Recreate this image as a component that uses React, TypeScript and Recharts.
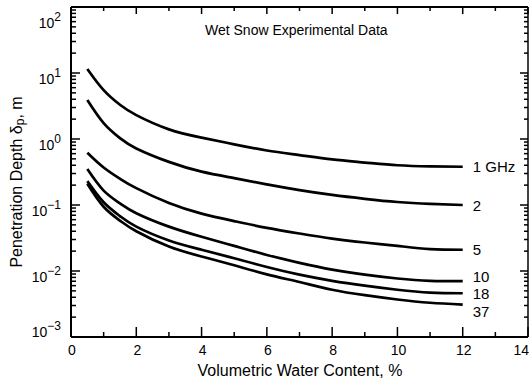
import React from "react";
import { LineChart, Line, XAxis, YAxis, LabelList } from "recharts";

const waterContent = [0.5, 1, 1.5, 2, 3, 4, 5, 6, 7, 8, 9, 10, 11, 12];
const depth1GHz = [11.5, 5.5, 3.3, 2.3, 1.4, 1.05, 0.83, 0.67, 0.57, 0.49, 0.44, 0.4, 0.385, 0.38];
const depth2GHz = [3.9, 1.74, 1.03, 0.72, 0.45, 0.32, 0.255, 0.205, 0.168, 0.142, 0.124, 0.111, 0.104, 0.1];
const depth5GHz = [0.62, 0.37, 0.25, 0.18, 0.107, 0.074, 0.057, 0.045, 0.037, 0.031, 0.027, 0.024, 0.0215, 0.021];
const depth10GHz = [0.35, 0.165, 0.106, 0.075, 0.047, 0.033, 0.024, 0.0175, 0.0133, 0.0105, 0.0088, 0.0077, 0.0071, 0.007];
const depth18GHz = [0.23, 0.11, 0.068, 0.047, 0.029, 0.021, 0.0156, 0.0115, 0.0088, 0.0071, 0.006, 0.0052, 0.0047, 0.0046];
const depth37GHz = [0.21, 0.094, 0.058, 0.04, 0.0235, 0.0166, 0.0122, 0.0089, 0.0068, 0.0052, 0.0043, 0.0037, 0.0033, 0.0031];

const seriesKeys = ["f1", "f2", "f5", "f10", "f18", "f37"];
const seriesNames = ["1 GHz", "2", "5", "10", "18", "37"];
const seriesValues = [depth1GHz, depth2GHz, depth5GHz, depth10GHz, depth18GHz, depth37GHz];
const labelShift = [0, 0, 0, -5, 0, 7];

const xTicks = [0, 1, 2, 3, 4, 5, 6, 7, 8, 9, 10, 11, 12, 13, 14];
const yTicks = [
  0.001, 0.002, 0.003, 0.004, 0.005, 0.006, 0.007, 0.008, 0.009,
  0.01, 0.02, 0.03, 0.04, 0.05, 0.06, 0.07, 0.08, 0.09,
  0.1, 0.2, 0.3, 0.4, 0.5, 0.6, 0.7, 0.8, 0.9,
  1, 2, 3, 4, 5, 6, 7, 8, 9,
  10, 20, 30, 40, 50, 60, 70, 80, 90,
  100,
];

const data = waterContent.map((x, i) => {
  const row: Record<string, number> = { x };
  seriesKeys.forEach((k, s) => (row[k] = seriesValues[s][i]));
  return row;
});

const FONT = "'Liberation Sans', Arial, Helvetica, sans-serif";

const isDecade = (v: number) => {
  const l = Math.log10(v);
  return Math.abs(l - Math.round(l)) < 1e-6;
};

const BottomTick = (p: any) => {
  const v = p.payload.value;
  const major = v % 2 === 0;
  const last = v === xTicks[xTicks.length - 1];
  return (
    <g>
      <line x1={p.x} x2={p.x} y1={p.y} y2={p.y - (major ? 10 : 5)} stroke="#000" strokeWidth={1.5} />
      {major && (
        <text
          x={p.x + 1}
          y={p.y + 18}
          textAnchor={last ? "end" : "middle"}
          fontSize={14}
          fontFamily={FONT}
          fill="#000"
        >
          {v}
        </text>
      )}
    </g>
  );
};

const TopTick = (p: any) => {
  const major = p.payload.value % 2 === 0;
  return <line x1={p.x} x2={p.x} y1={p.y} y2={p.y + (major ? 7 : 4)} stroke="#000" strokeWidth={1.5} />;
};

const LeftTick = (p: any) => {
  const v = p.payload.value;
  const major = isDecade(v);
  const k = Math.round(Math.log10(v));
  const dy = k === 2 ? 21 : k === -3 ? 0 : 11;
  return (
    <g>
      <line x1={p.x} x2={p.x + (major ? 9 : 5)} y1={p.y} y2={p.y} stroke="#000" strokeWidth={1.5} />
      {major && (
        <text x={p.x - 10} y={p.y + dy} textAnchor="end" fontSize={14} fontFamily={FONT} fill="#000">
          10
          <tspan dy={-7} fontSize={12}>
            {k < 0 ? "\u2212" + Math.abs(k) : String(k)}
          </tspan>
        </text>
      )}
    </g>
  );
};

const RightTick = (p: any) => {
  const major = isDecade(p.payload.value);
  return <line x1={p.x} x2={p.x - (major ? 8 : 4)} y1={p.y} y2={p.y} stroke="#000" strokeWidth={1.5} />;
};

const YTitle = () => (
  <text
    x={16}
    y={182}
    transform="rotate(-90, 16, 182)"
    textAnchor="middle"
    dominantBaseline="central"
    fontSize={16}
    fontFamily={FONT}
    fill="#000"
  >
    Penetration Depth  δ
    <tspan dy={4} fontSize={12}>p</tspan>
    <tspan dy={-4}>, m</tspan>
  </text>
);

const XTitle = () => (
  <text x={300} y={376} textAnchor="middle" fontSize={16} fontFamily={FONT} fill="#000">
    Volumetric Water Content, %
  </text>
);

const endLabel = (s: number) => (props: any) => {
  const { x, y, index } = props;
  if (index !== waterContent.length - 1) return null;
  return (
    <text
      x={x + 10}
      y={y + labelShift[s]}
      dominantBaseline="central"
      fontSize={15}
      fontFamily={FONT}
      fill="#000"
    >
      {seriesNames[s]}
    </text>
  );
};

export default function App() {
  return (
    <div style={{ position: "absolute", left: 0, top: 0, width: 529, height: 384, background: "#fff" }}>
      <LineChart width={529} height={384} data={data} margin={{ top: 0, right: 0, bottom: 0, left: 0 }}>
        <XAxis
          xAxisId="b"
          dataKey="x"
          type="number"
          domain={[0, 14]}
          ticks={xTicks}
          interval={0}
          height={47}
          tickSize={0}
          tickMargin={0}
          tickLine={false}
          axisLine={{ stroke: "#000", strokeWidth: 2 }}
          tick={BottomTick}
          label={{ content: XTitle }}
        />
        <XAxis
          xAxisId="t"
          orientation="top"
          dataKey="x"
          type="number"
          domain={[0, 14]}
          ticks={xTicks}
          interval={0}
          height={7}
          tickSize={0}
          tickMargin={0}
          tickLine={false}
          axisLine={{ stroke: "#000", strokeWidth: 2 }}
          tick={TopTick}
        />
        <YAxis
          yAxisId="l"
          type="number"
          scale="log"
          domain={[0.001, 100]}
          allowDataOverflow
          ticks={yTicks}
          interval={0}
          width={71}
          tickSize={0}
          tickMargin={0}
          tickLine={false}
          axisLine={{ stroke: "#000", strokeWidth: 2 }}
          tick={LeftTick}
          label={{ content: YTitle }}
        />
        <YAxis
          yAxisId="r"
          orientation="right"
          type="number"
          scale="log"
          domain={[0.001, 100]}
          allowDataOverflow
          ticks={yTicks}
          interval={0}
          width={1}
          tickSize={0}
          tickMargin={0}
          tickLine={false}
          axisLine={{ stroke: "#000", strokeWidth: 1.5 }}
          tick={RightTick}
        />
        {seriesKeys.map((k, s) => (
          <Line
            key={k}
            xAxisId="b"
            yAxisId="l"
            dataKey={k}
            type="natural"
            stroke="#000"
            strokeWidth={2.7}
            dot={false}
            isAnimationActive={false}
          >
            <LabelList dataKey={k} content={endLabel(s)} />
          </Line>
        ))}
      </LineChart>
      <div
        style={{
          position: "absolute",
          left: 205,
          top: 22,
          fontFamily: FONT,
          fontSize: 14,
          lineHeight: "16px",
          whiteSpace: "nowrap",
          color: "#000",
        }}
      >
        Wet Snow Experimental Data
      </div>
    </div>
  );
}
